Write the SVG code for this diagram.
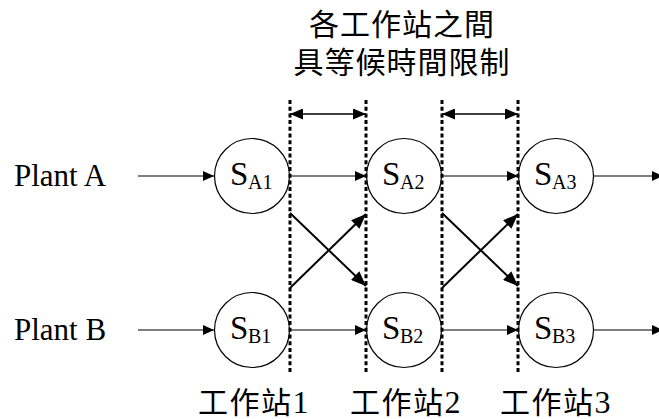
<svg xmlns="http://www.w3.org/2000/svg" width="659" height="419" viewBox="0 0 659 419">
<style>
.node circle{fill:#fff;stroke:#000;stroke-width:1.2}
.s{font-family:"Liberation Serif","Times New Roman",serif;font-size:33px;fill:#000}
.sub{font-family:"Liberation Serif","Times New Roman",serif;font-size:20px;fill:#000}
.lbl{font-family:"Liberation Serif","Times New Roman",serif;font-size:31px;fill:#000}
.cjk{font-family:"Liberation Serif","Noto Sans CJK TC",sans-serif;font-size:30px;fill:#000}
.num{font-size:32px}
.flow{stroke:#555;stroke-width:1.5;fill:none;marker-end:url(#ah)}
.cross{stroke:#000;stroke-width:2;fill:none;marker-end:url(#ahb)}
.dash{stroke:#000;stroke-width:3;stroke-dasharray:4 2.7;fill:none}
.dim{stroke:#000;stroke-width:1.5;fill:none;marker-start:url(#ahs);marker-end:url(#ahd)}
</style>
<defs>
<marker id="ah" markerUnits="userSpaceOnUse" markerWidth="11" markerHeight="10" refX="11" refY="5" orient="auto"><path d="M0,0 L11,5 L0,10 Z" fill="#000"/></marker>
<marker id="ahb" markerUnits="userSpaceOnUse" markerWidth="15" markerHeight="12" refX="15" refY="6" orient="auto"><path d="M0,0 L15,6 L0,12 Z" fill="#000"/></marker>
<marker id="ahd" markerUnits="userSpaceOnUse" markerWidth="13" markerHeight="11" refX="13" refY="5.5" orient="auto"><path d="M0,0 L13,5.5 L0,11 Z" fill="#000"/></marker>
<marker id="ahs" markerUnits="userSpaceOnUse" markerWidth="13" markerHeight="11" refX="0" refY="5.5" orient="auto"><path d="M13,0 L0,5.5 L13,11 Z" fill="#000"/></marker>
</defs>

<g id="title">
<text class="cjk" x="402" y="35" text-anchor="middle" letter-spacing="1">各工作站之間</text>
<text class="cjk" x="402" y="73" text-anchor="middle" letter-spacing="1">具等候時間限制</text>
</g>

<g id="plantA"><text class="lbl" x="14" y="186">Plant A</text></g>
<g id="plantB"><text class="lbl" x="14" y="340">Plant B</text></g>

<g id="connectors">
<line class="flow" x1="138" y1="176" x2="214" y2="176"/>
<line class="flow" x1="138" y1="330" x2="214" y2="330"/>
<line class="flow" x1="290" y1="176" x2="366" y2="176"/>
<line class="flow" x1="290" y1="330" x2="366" y2="330"/>
<line class="flow" x1="442" y1="176" x2="518" y2="176"/>
<line class="flow" x1="442" y1="330" x2="518" y2="330"/>
<line class="flow" x1="593" y1="176" x2="663" y2="176"/>
<line class="flow" x1="593" y1="330" x2="663" y2="330"/>
<line class="cross" x1="290" y1="213" x2="366" y2="286"/>
<line class="cross" x1="290" y1="288" x2="366" y2="214"/>
<line class="cross" x1="442" y1="213" x2="518" y2="286"/>
<line class="cross" x1="442" y1="288" x2="518" y2="214"/>
<line class="dim" x1="290" y1="114" x2="366" y2="114"/>
<line class="dim" x1="442" y1="114" x2="518" y2="114"/>
</g>

<g id="SA1" class="node"><circle cx="252" cy="176" r="37.5"/><text class="s" x="230" y="185">S</text><text class="sub" x="248" y="189">A1</text></g>
<g id="SA2" class="node"><circle cx="404" cy="176" r="37.5"/><text class="s" x="382" y="185">S</text><text class="sub" x="400" y="189">A2</text></g>
<g id="SA3" class="node"><circle cx="556" cy="176" r="37.5"/><text class="s" x="534" y="185">S</text><text class="sub" x="552" y="189">A3</text></g>
<g id="SB1" class="node"><circle cx="252" cy="330" r="37.5"/><text class="s" x="230" y="339">S</text><text class="sub" x="248" y="343">B1</text></g>
<g id="SB2" class="node"><circle cx="404" cy="330" r="37.5"/><text class="s" x="382" y="339">S</text><text class="sub" x="400" y="343">B2</text></g>
<g id="SB3" class="node"><circle cx="556" cy="330" r="37.5"/><text class="s" x="534" y="339">S</text><text class="sub" x="552" y="343">B3</text></g>

<g id="dashes">
<line class="dash" x1="290" y1="100" x2="290" y2="372"/>
<line class="dash" x1="366" y1="100" x2="366" y2="372"/>
<line class="dash" x1="442" y1="100" x2="442" y2="372"/>
<line class="dash" x1="518" y1="100" x2="518" y2="372"/>
</g>

<g id="stations">
<text class="cjk" x="198" y="413" letter-spacing="1.5">工作站<tspan class="num">1</tspan></text>
<text class="cjk" x="350" y="413" letter-spacing="1.5">工作站<tspan class="num">2</tspan></text>
<text class="cjk" x="500" y="413" letter-spacing="1.5">工作站<tspan class="num">3</tspan></text>
</g>
</svg>
